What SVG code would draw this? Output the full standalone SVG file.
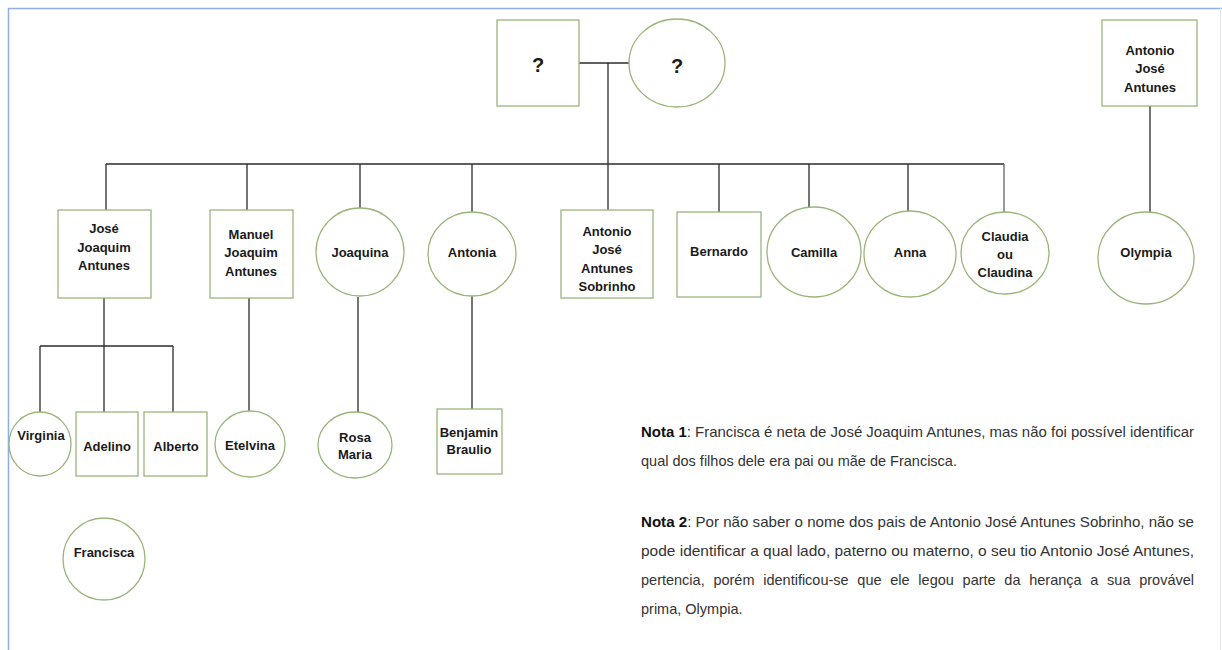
<svg xmlns="http://www.w3.org/2000/svg" width="1222" height="650" viewBox="0 0 1222 650">
<style>
.n{fill:#fff;stroke:#9ab57a;stroke-width:1.3}
.c{stroke:#2b2b2b;stroke-width:1.3;fill:none}
.t{font-family:"Liberation Sans",Arial,sans-serif;font-weight:bold;font-size:13px;fill:#1a1a1a;text-anchor:middle}
.q{font-family:"Liberation Sans",Arial,sans-serif;font-weight:bold;font-size:20px;fill:#1a1a1a;text-anchor:middle}
.note{font-family:"Liberation Sans",Arial,sans-serif;font-size:14.5px;fill:#333}
.b{font-weight:bold;fill:#111}
</style>
<rect x="0" y="0" width="1222" height="650" fill="#fff"/>
<g id="frame">
<line x1="8" y1="8.5" x2="1222" y2="8.5" stroke="#8fb0e6" stroke-width="1.5"/>
<line x1="8.5" y1="8" x2="8.5" y2="650" stroke="#8fb0e6" stroke-width="1.5"/>
<line x1="1220.5" y1="8" x2="1220.5" y2="650" stroke="#e4e8ee" stroke-width="1"/>
</g>
<g id="connectors">
<path class="c" d="M579 63H629"/>
<path class="c" d="M608 63V210"/>
<path class="c" d="M106 164H1004"/>
<path class="c" d="M106 164V210"/>
<path class="c" d="M247 164V210"/>
<path class="c" d="M360 164V208"/>
<path class="c" d="M472 164V212"/>
<path class="c" d="M719 164V212"/>
<path class="c" d="M809 164V209"/>
<path class="c" d="M908 164V211"/>
<path d="M1004 164V212" stroke="#56657d" stroke-width="1.3" fill="none"/>
<path class="c" d="M1150 106V212" stroke="#555"/>
<path class="c" d="M104 298V412"/>
<path class="c" d="M40 346H173"/>
<path class="c" d="M40 346V412"/>
<path class="c" d="M173 346V412"/>
<path class="c" d="M249 298V411"/>
<path class="c" d="M358 297V412"/>
<path class="c" d="M472 296V409"/>
</g>
<g id="p_unknown_father"><rect class="n" x="497" y="20" width="82" height="86"/><text class="q" x="538" y="72">?</text></g>
<g id="p_unknown_mother"><ellipse class="n" cx="677" cy="63" rx="48" ry="44"/><text class="q" x="677" y="73">?</text></g>
<g id="p_antonio_jose_antunes"><rect class="n" x="1102" y="20" width="95" height="86"/><text class="t" x="1150" y="55">Antonio</text><text class="t" x="1150" y="73">José</text><text class="t" x="1150" y="92">Antunes</text></g>
<g id="p_jose_joaquim"><rect class="n" x="58" y="210" width="93" height="88"/><text class="t" x="104" y="233">José</text><text class="t" x="104" y="252">Joaquim</text><text class="t" x="104" y="270">Antunes</text></g>
<g id="p_manuel_joaquim"><rect class="n" x="210" y="210" width="83" height="88"/><text class="t" x="251" y="239">Manuel</text><text class="t" x="251" y="257">Joaquim</text><text class="t" x="251" y="276">Antunes</text></g>
<g id="p_joaquina"><ellipse class="n" cx="360" cy="252" rx="44" ry="44"/><text class="t" x="360" y="257">Joaquina</text></g>
<g id="p_antonia"><ellipse class="n" cx="472" cy="254" rx="44" ry="42"/><text class="t" x="472" y="257">Antonia</text></g>
<g id="p_antonio_sobrinho"><rect class="n" x="561" y="210" width="92" height="88"/><text class="t" x="607" y="236">Antonio</text><text class="t" x="607" y="254">José</text><text class="t" x="607" y="273">Antunes</text><text class="t" x="607" y="291">Sobrinho</text></g>
<g id="p_bernardo"><rect class="n" x="677" y="212" width="84" height="85"/><text class="t" x="719" y="256">Bernardo</text></g>
<g id="p_camilla"><ellipse class="n" cx="814" cy="252" rx="47" ry="45"/><text class="t" x="814" y="257">Camilla</text></g>
<g id="p_anna"><ellipse class="n" cx="910" cy="254" rx="46" ry="43"/><text class="t" x="910" y="257">Anna</text></g>
<g id="p_claudia"><ellipse class="n" cx="1005" cy="253" rx="44" ry="41"/><text class="t" x="1005" y="241">Claudia</text><text class="t" x="1005" y="259">ou</text><text class="t" x="1005" y="277">Claudina</text></g>
<g id="p_olympia"><ellipse class="n" cx="1146" cy="258" rx="48" ry="46"/><text class="t" x="1146" y="257">Olympia</text></g>
<g id="p_virginia"><ellipse class="n" cx="40" cy="444" rx="31" ry="32"/><text class="t" x="41" y="440">Virginia</text></g>
<g id="p_adelino"><rect class="n" x="76" y="412" width="62" height="64"/><text class="t" x="107" y="451">Adelino</text></g>
<g id="p_alberto"><rect class="n" x="144" y="412" width="63" height="64"/><text class="t" x="176" y="451">Alberto</text></g>
<g id="p_etelvina"><ellipse class="n" cx="250" cy="444" rx="35" ry="33"/><text class="t" x="250" y="450">Etelvina</text></g>
<g id="p_rosa_maria"><ellipse class="n" cx="355" cy="445" rx="37" ry="33"/><text class="t" x="355" y="442">Rosa</text><text class="t" x="355" y="459">Maria</text></g>
<g id="p_benjamin"><rect class="n" x="437" y="409" width="65" height="65"/><text class="t" x="469" y="437">Benjamin</text><text class="t" x="469" y="454">Braulio</text></g>
<g id="p_francisca"><ellipse class="n" cx="104" cy="559" rx="41" ry="41"/><text class="t" x="104" y="557">Francisca</text></g>
<g id="notes">
<text class="note" x="641" y="437" textLength="553" lengthAdjust="spacingAndGlyphs"><tspan class="b">Nota 1</tspan>: Francisca é neta de José Joaquim Antunes, mas não foi possível identificar</text>
<text class="note" x="641" y="466">qual dos filhos dele era pai ou mãe de Francisca.</text>
<text class="note" x="641" y="527" textLength="553" lengthAdjust="spacingAndGlyphs"><tspan class="b">Nota 2</tspan>: Por não saber o nome dos pais de Antonio José Antunes Sobrinho, não se</text>
<text class="note" x="641" y="556" textLength="553" lengthAdjust="spacingAndGlyphs">pode identificar a qual lado, paterno ou materno, o seu tio Antonio José Antunes,</text>
<text class="note" x="641" y="585" word-spacing="4.7" textLength="553" lengthAdjust="spacing">pertencia, porém identificou-se que ele legou parte da herança a sua provável</text>
<text class="note" x="641" y="614">prima, Olympia.</text>
</g>
</svg>
